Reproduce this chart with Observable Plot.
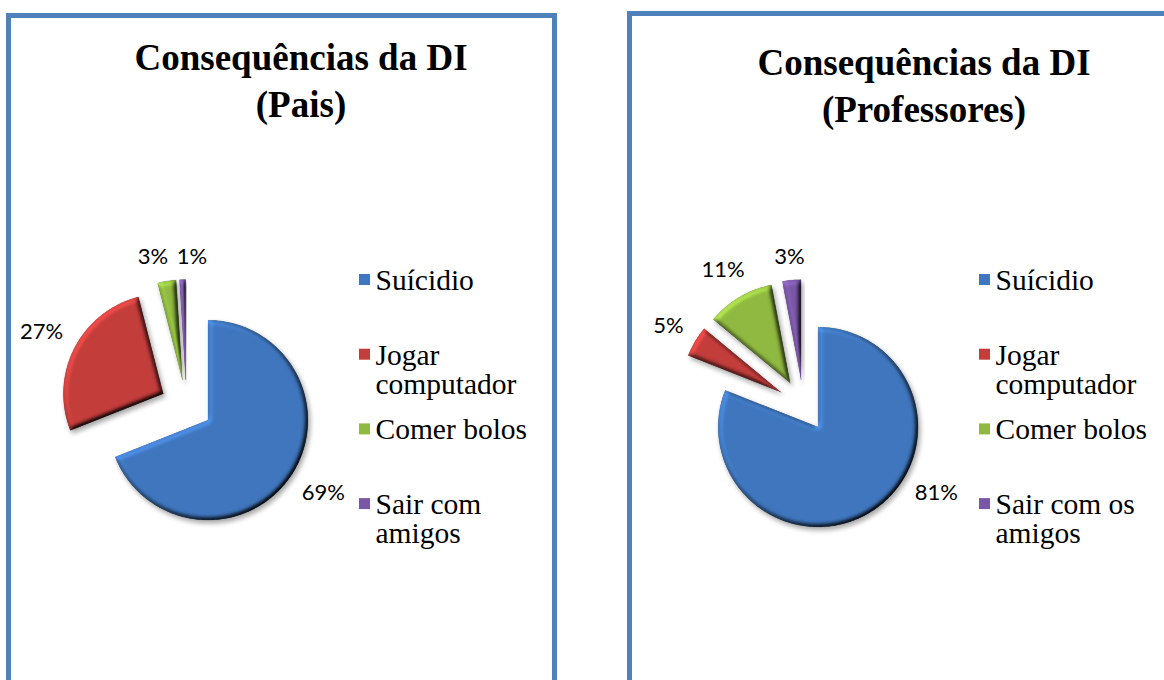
<!DOCTYPE html>
<html><head><meta charset="utf-8">
<script src="https://cdn.jsdelivr.net/npm/d3@7"></script>
<script src="https://cdn.jsdelivr.net/npm/@observablehq/plot@0.6"></script>
<style>
body{margin:0;width:1164px;height:680px;overflow:hidden;background:#fff;position:relative;}
.panel{position:absolute;border:5px solid #4f81bd;box-sizing:border-box;}
.title{position:absolute;width:440px;font-family:"Liberation Serif","Times New Roman",serif;font-weight:bold;font-size:37px;line-height:47px;text-align:center;color:#000;white-space:nowrap;}
.chart{position:absolute;top:140px;}
</style></head><body>
<div class="panel" style="left:6px;top:13px;width:551px;height:720px"></div>
<div class="panel" style="left:627px;top:11px;width:620px;height:720px"></div>
<div class="title" style="left:81px;top:34px">Consequências da DI<br>(Pais)</div>
<div class="title" style="left:704px;top:39px">Consequências da DI<br>(Professores)</div>
<div class="chart" id="c1" style="left:0px"></div>
<div class="chart" id="c2" style="left:620px"></div>
<script>
const leftCategories = ["Suícidio", "Jogar computador", "Comer bolos", "Sair com amigos"];
const leftValues = [69, 27, 3, 1];
const rightCategories = ["Suícidio", "Jogar computador", "Comer bolos", "Sair com os amigos"];
const rightValues = [81, 5, 11, 3];
const sliceColors = ["#3f76be", "#c33d3b", "#8fb940", "#7a56a6"];

const SERIF = "Liberation Serif";
const SANS = "Lato";

function pieChart(categories, values, cx, id) {
  const W = 544, H = 540, cy = 265, R = 100, EX = 26, FS = 22, LFS = 29.5;
  const total = d3.sum(values);
  let acc = 0;
  const slices = values.map((v, i) => {
    const a0 = acc / total * 2 * Math.PI; acc += v;
    const a1 = acc / total * 2 * Math.PI;
    return {i, cat: categories[i], v, a0, a1, m: (a0 + a1) / 2};
  });
  const pts = [];
  for (const s of slices) {
    const ox = cx + EX * Math.sin(s.m), oy = cy - EX * Math.cos(s.m);
    pts.push({cat: s.cat, x: ox, y: oy});
    const n = Math.max(2, Math.ceil((s.a1 - s.a0) / (Math.PI / 180)));
    for (let k = 0; k <= n; k++) {
      const a = s.a0 + (s.a1 - s.a0) * k / n;
      pts.push({cat: s.cat, x: ox + R * Math.sin(a), y: oy - R * Math.cos(a)});
    }
    pts.push({cat: s.cat, x: ox, y: oy});
  }
  // percentage labels, outside end
  const labels = slices.map(s => {
    const text = Math.round(s.v / total * 100) + "%";
    const w = [...text].reduce((t, ch) => t + (ch === "%" ? 0.83 : 0.58) * FS, 0);
    const h = 18;
    const sm = Math.sin(s.m), cm = Math.cos(s.m);
    const rl = R + EX + 13 + Math.abs(sm) * w / 2 + Math.abs(cm) * h / 2;
    let x = cx + rl * sm, y = cy - rl * cm;
    const maxY = cy + 87;
    if (y > maxY) { y = maxY; x = cx + Math.sign(sm) * Math.sqrt(rl * rl - 87 * 87); }
    return {text, x, y, w, h};
  });
  for (let i = 0; i < labels.length; i++) for (let j = i + 1; j < labels.length; j++) {
    const a = labels[i], b = labels[j];
    const ox = (a.w + b.w) / 2 + 8 - Math.abs(a.x - b.x);
    const oy = (a.h + b.h) / 2 - Math.abs(a.y - b.y);
    if (ox > 0 && oy > 0) {
      const sgn = a.x <= b.x ? 1 : -1;
      a.x -= sgn * ox / 2; b.x += sgn * ox / 2;
    }
  }
  const legend = categories.map((c, i) => ({cat: c, y: 139 + i * 74.7}));
  const svg = Plot.plot({
    width: W, height: H, margin: 0,
    x: {domain: [0, W], range: [0, W], axis: null},
    y: {domain: [0, H], range: [0, H], axis: null},
    color: {domain: categories, range: sliceColors},
    marks: [
      Plot.line(pts, {x: "x", y: "y", z: "cat", fill: "cat", stroke: "cat", strokeWidth: 0.5, curve: "linear", className: "slices"}),
      Plot.text(labels, {x: "x", y: "y", text: "text", fontSize: FS, fontFamily: SANS, fill: "#000", textAnchor: "middle", lineAnchor: "middle"}),
      Plot.dot(legend, {x: 364, y: "y", symbol: "square", r: 6.2, fill: "cat"}),
      Plot.text(legend, {x: 375, y: d => d.y - 10, text: "cat", fontSize: LFS, fontFamily: SERIF, fill: "#000", textAnchor: "start", lineAnchor: "top", lineWidth: 6.5, lineHeight: 0.98})
    ]
  });
  const ns = "http://www.w3.org/2000/svg";
  const defs = document.createElementNS(ns, "defs");
  defs.innerHTML =
    '<filter id="bv' + id + '" x="-20%" y="-20%" width="140%" height="140%" color-interpolation-filters="sRGB">' +
    '<feGaussianBlur in="SourceAlpha" stdDeviation="2.5" result="blur"/>' +
    '<feDiffuseLighting in="blur" surfaceScale="4" diffuseConstant="1" lighting-color="#ffffff" result="diff">' +
    '<feDistantLight azimuth="225" elevation="55"/></feDiffuseLighting>' +
    '<feComposite in="SourceGraphic" in2="diff" operator="arithmetic" k1="1.22" k2="0" k3="0" k4="0" result="lit"/>' +
    '<feComposite in="lit" in2="SourceAlpha" operator="in" result="litIn"/>' +
    '<feGaussianBlur in="SourceAlpha" stdDeviation="2.5" result="sb"/>' +
    '<feOffset in="sb" dx="1.5" dy="3" result="so"/>' +
    '<feComponentTransfer in="so" result="sh"><feFuncA type="linear" slope="0.35"/></feComponentTransfer>' +
    '<feMerge><feMergeNode in="sh"/><feMergeNode in="litIn"/></feMerge>' +
    '</filter>';
  svg.insertBefore(defs, svg.firstChild);
  svg.querySelectorAll("g.slices path").forEach(p => p.setAttribute("filter", "url(#bv" + id + ")"));
  return svg;
}

document.getElementById("c1").append(pieChart(leftCategories, leftValues, 186, "a"));
document.getElementById("c2").append(pieChart(rightCategories, rightValues, 183, "b"));
</script>
</body></html>
